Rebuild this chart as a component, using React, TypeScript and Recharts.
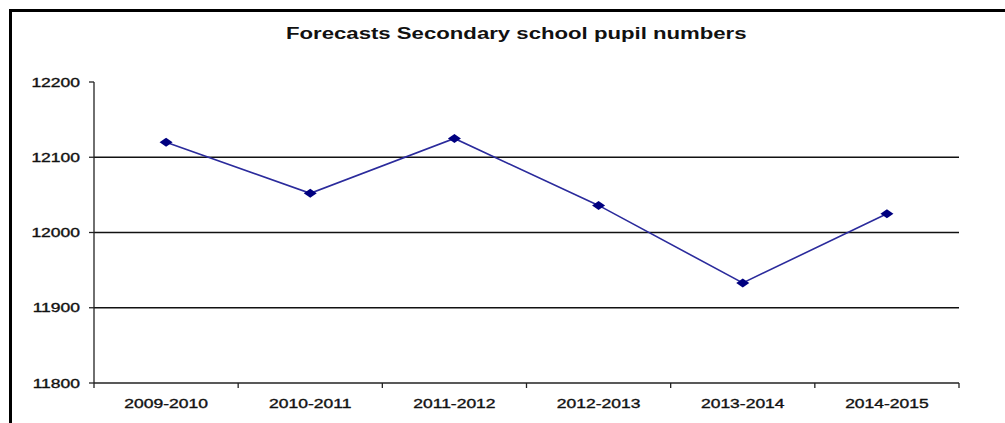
import React from "react";
import { LineChart, Line, XAxis, YAxis, ReferenceLine } from "recharts";

const categories = ["2009-2010", "2010-2011", "2011-2012", "2012-2013", "2013-2014", "2014-2015"];
const pupils = [12120, 12052, 12125, 12036, 11933, 12025];
const yTicks = [11800, 11900, 12000, 12100, 12200];
const gridValues = [11900, 12000, 12100];
const title = "Forecasts Secondary school pupil numbers";

const data = categories.map((c, i) => ({ year: c, pupils: pupils[i] }));

const W = 1005;
const H = 423;
const M = { top: 82, right: 46, bottom: 0, left: 0 };
const Y_AXIS_W = 94;
const X_AXIS_H = 40;
const PLOT_W = W - M.left - M.right - Y_AXIS_W;
const AXIS_Y = H - X_AXIS_H;
const BAND = PLOT_W / categories.length;
const STRETCH = 1.4;
const FONT = "'Liberation Sans', Arial, sans-serif";

const XTick = (props: any) => {
  const { x, index } = props;
  const isLast = index === categories.length - 1;
  return (
    <g>
      <line x1={x - BAND / 2} x2={x - BAND / 2} y1={AXIS_Y} y2={AXIS_Y + 5} stroke="#222" strokeWidth={1.3} />
      {isLast && (
        <line x1={x + BAND / 2} x2={x + BAND / 2} y1={AXIS_Y} y2={AXIS_Y + 5} stroke="#222" strokeWidth={1.3} />
      )}
      <text
        transform={`translate(${x}, ${AXIS_Y + 24.5}) scale(${STRETCH}, 1)`}
        textAnchor="middle"
        fontFamily={FONT}
        fontSize={12.5}
        fill="#111"
        stroke="#111"
        strokeWidth={0.35}
      >
        {props.payload.value}
      </text>
    </g>
  );
};

const YTick = (props: any) => {
  const { x, y } = props;
  return (
    <text
      transform={`translate(${x}, ${y + 4.5}) scale(${STRETCH}, 1)`}
      textAnchor="end"
      fontFamily={FONT}
      fontSize={12.5}
      fill="#111"
      stroke="#111"
      strokeWidth={0.35}
    >
      {props.payload.value}
    </text>
  );
};

const Diamond = (props: any) => {
  const { cx, cy } = props;
  if (cx == null || cy == null) return null;
  return (
    <polygon
      points={`${cx - 6.5},${cy} ${cx},${cy - 4.5} ${cx + 6.5},${cy} ${cx},${cy + 4.5}`}
      fill="#000080"
      stroke="none"
    />
  );
};

export default function App() {
  return (
    <div style={{ position: "absolute", left: 0, top: 0, width: W, height: H, overflow: "hidden", background: "#fff" }}>
      <div
        style={{
          position: "absolute",
          left: 9,
          top: 9,
          width: 1100,
          height: 600,
          border: "3px solid #000",
        }}
      />
      <div
        style={{
          position: "absolute",
          left: 0,
          width: W,
          top: 24,
          textAlign: "center",
          fontFamily: FONT,
          fontWeight: "bold",
          fontSize: 16,
          color: "#111",
          lineHeight: "20px",
        }}
      >
        <span style={{ display: "inline-block", transform: "scaleX(1.385)", transformOrigin: "center", marginLeft: 28 }}>
          {title}
        </span>
      </div>
      <div style={{ position: "absolute", left: 0, top: 0 }}>
        <LineChart width={W} height={H} data={data} margin={M}>
          <XAxis
            dataKey="year"
            height={X_AXIS_H}
            padding={{ left: BAND / 2, right: BAND / 2 }}
            tickLine={false}
            axisLine={{ stroke: "#222", strokeWidth: 1.3 }}
            tick={<XTick />}
            interval={0}
          />
          <YAxis
            width={Y_AXIS_W}
            domain={[11800, 12200]}
            ticks={yTicks}
            interval={0}
            tickSize={5}
            tickMargin={9}
            tickLine={{ stroke: "#222", strokeWidth: 1.3 }}
            axisLine={{ stroke: "#222", strokeWidth: 1.3 }}
            tick={<YTick />}
            allowDataOverflow
          />
          {gridValues.map((v) => (
            <ReferenceLine key={v} y={v} stroke="#111" strokeWidth={1.3} />
          ))}
          <Line
            type="linear"
            dataKey="pupils"
            stroke="#2b2b9c"
            strokeWidth={1.6}
            dot={<Diamond />}
            activeDot={false}
            isAnimationActive={false}
          />
        </LineChart>
      </div>
    </div>
  );
}
